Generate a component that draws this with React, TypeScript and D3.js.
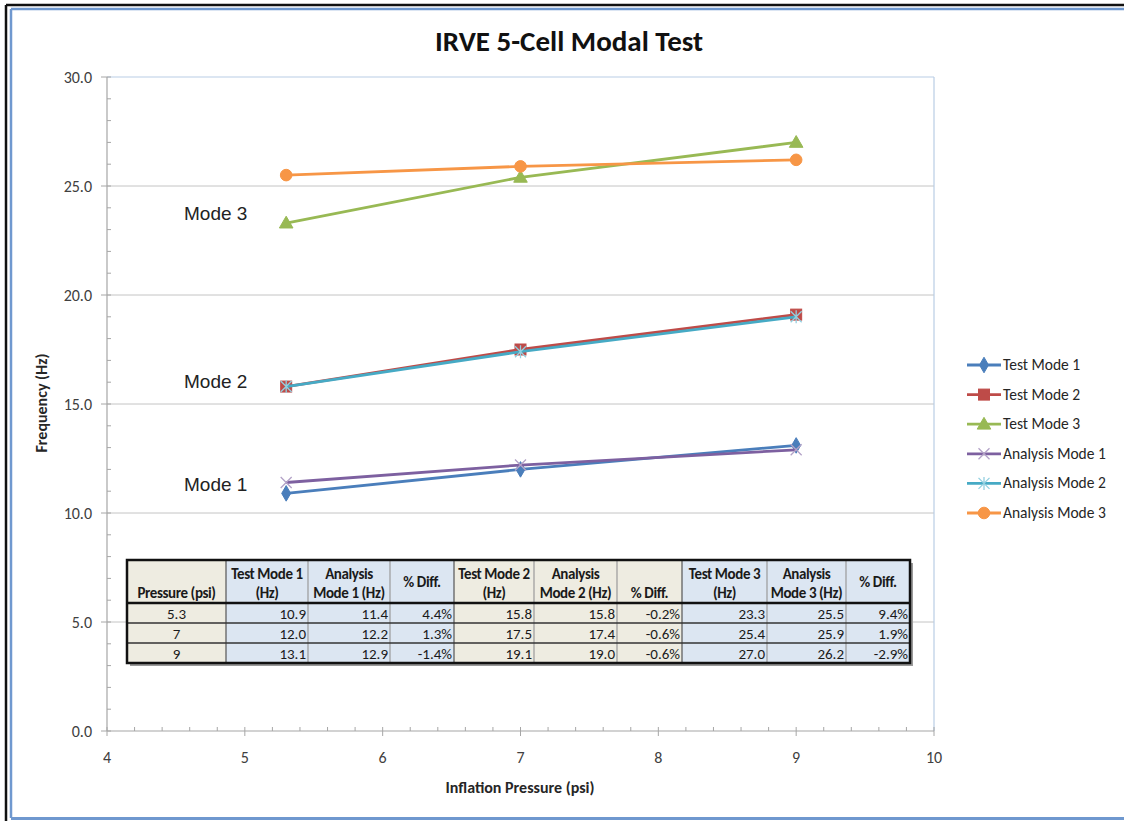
import React from "react";
import * as d3 from "d3";

const pressures = [5.3, 7, 9];
const pressureLabels = ["5.3", "7", "9"];
const testMode1 = [10.9, 12.0, 13.1];
const testMode2 = [15.8, 17.5, 19.1];
const testMode3 = [23.3, 25.4, 27.0];
const analysisMode1 = [11.4, 12.2, 12.9];
const analysisMode2 = [15.8, 17.4, 19.0];
const analysisMode3 = [25.5, 25.9, 26.2];
const diffMode1 = ["4.4%", "1.3%", "-1.4%"];
const diffMode2 = ["-0.2%", "-0.6%", "-0.6%"];
const diffMode3 = ["9.4%", "1.9%", "-2.9%"];
const xTicks = [4, 5, 6, 7, 8, 9, 10];
const yTicks = [0, 5, 10, 15, 20, 25, 30];
const modeLabels = [
  { text: "Mode 3", v: 23.75 },
  { text: "Mode 2", v: 16.05 },
  { text: "Mode 1", v: 11.35 },
];

const seriesList = [
  { name: "Test Mode 1", values: testMode1, color: "#4a7ebb", marker: "diamond" },
  { name: "Test Mode 2", values: testMode2, color: "#be4b48", marker: "square" },
  { name: "Test Mode 3", values: testMode3, color: "#98b954", marker: "triangle" },
  { name: "Analysis Mode 1", values: analysisMode1, color: "#7d60a0", marker: "x" },
  { name: "Analysis Mode 2", values: analysisMode2, color: "#46aac5", marker: "star" },
  { name: "Analysis Mode 3", values: analysisMode3, color: "#f79646", marker: "circle" },
];

const FONT = "Carlito, Lato, 'Open Sans', sans-serif";

function Marker({ type, color, x, y }: { type: string; color: string; x: number; y: number }) {
  if (type === "diamond") {
    const p = d3.symbol(d3.symbolDiamond, 70)();
    return <path d={p || ""} transform={`translate(${x},${y})`} fill={color} stroke={color} strokeWidth={1} />;
  }
  if (type === "square") {
    return <rect x={x - 5.5} y={y - 5.5} width={11} height={11} fill={color} stroke={color} />;
  }
  if (type === "triangle") {
    const p = d3.symbol(d3.symbolTriangle, 80)();
    return <path d={p || ""} transform={`translate(${x},${y + 1})`} fill={color} stroke={color} />;
  }
  if (type === "circle") {
    return <circle cx={x} cy={y} r={5.8} fill={color} stroke={color} />;
  }
  if (type === "x") {
    const s = 5.5;
    return (
      <path
        d={`M${x - s},${y - s}L${x + s},${y + s}M${x - s},${y + s}L${x + s},${y - s}`}
        stroke="#b3a2c7"
        strokeWidth={1.3}
        fill="none"
      />
    );
  }
  const s = 5.5;
  return (
    <path
      d={`M${x - s},${y - s}L${x + s},${y + s}M${x - s},${y + s}L${x + s},${y - s}M${x},${y - s - 1}L${x},${y + s + 1}`}
      stroke="#93d0e0"
      strokeWidth={1.3}
      fill="none"
    />
  );
}

export default function App() {
  const W = 1124;
  const H = 821;
  const left = 107, right = 934, top = 77, bottom = 731;
  const x = d3.scaleLinear().domain([4, 10]).range([left, right]);
  const y = d3.scaleLinear().domain([0, 30]).range([bottom, top]);
  const line = d3
    .line<[number, number]>()
    .x((d) => x(d[0]))
    .y((d) => y(d[1]));

  const xMinor = d3.range(4, 10.001, 0.2);
  const yMinor = d3.range(0, 30.001, 1);

  const colEdges = [127, 226, 308, 390, 454, 534, 617, 682, 767, 846, 910];
  const rowEdges = [560, 603, 623, 643, 663];
  const beige = "#eeece1";
  const blue = "#dce6f2";
  const colFill = [beige, blue, blue, blue, beige, beige, beige, blue, blue, blue];
  const headers: string[][] = [
    ["Pressure (psi)"],
    ["Test Mode 1", "(Hz)"],
    ["Analysis", "Mode 1 (Hz)"],
    ["% Diff."],
    ["Test Mode 2", "(Hz)"],
    ["Analysis", "Mode 2 (Hz)"],
    ["% Diff."],
    ["Test Mode 3", "(Hz)"],
    ["Analysis", "Mode 3 (Hz)"],
    ["% Diff."],
  ];
  const rows = pressures.map((_, i) => [
    pressureLabels[i],
    testMode1[i].toFixed(1),
    analysisMode1[i].toFixed(1),
    diffMode1[i],
    testMode2[i].toFixed(1),
    analysisMode2[i].toFixed(1),
    diffMode2[i],
    testMode3[i].toFixed(1),
    analysisMode3[i].toFixed(1),
    diffMode3[i],
  ]);
  const TF = 15;

  return (
    <svg width={W} height={H} style={{ position: "absolute", left: 0, top: 0 }}>
      <rect x={0} y={0} width={W} height={H} fill="#ffffff" />
      <line x1={6} y1={5} x2={W} y2={5} stroke="#111" strokeWidth={2.5} />
      <line x1={6} y1={5} x2={6} y2={H} stroke="#111" strokeWidth={2.5} />
      <line x1={11} y1={9} x2={W} y2={9} stroke="#6f98cf" strokeWidth={2.5} />
      <line x1={11} y1={9} x2={11} y2={818} stroke="#6f98cf" strokeWidth={2.5} />
      <line x1={11} y1={818.5} x2={W} y2={818.5} stroke="#6f98cf" strokeWidth={3} />

      <text x={569} y={51} textAnchor="middle" fontFamily={FONT} fontWeight="bold" fontSize={29} fill="#111">
        IRVE 5-Cell Modal Test
      </text>

      {yTicks.filter((t) => t > 0 && t < 30).map((t) => (
        <line key={t} x1={left} x2={right} y1={y(t)} y2={y(t)} stroke="#c4c4c4" strokeWidth={1} />
      ))}
      <line x1={left} x2={right} y1={top} y2={top} stroke="#b9cde5" strokeWidth={1.2} />
      <line x1={right} x2={right} y1={top} y2={bottom} stroke="#b9cde5" strokeWidth={1.2} />

      <line x1={left} x2={left} y1={top} y2={bottom} stroke="#a6a6a6" strokeWidth={1.2} />
      {yMinor.map((t) => (
        <line key={"ym" + t} x1={left} x2={left + 4} y1={y(t)} y2={y(t)} stroke="#a6a6a6" />
      ))}
      {yTicks.map((t) => (
        <g key={"yt" + t}>
          <line x1={left - 6} x2={left} y1={y(t)} y2={y(t)} stroke="#a6a6a6" />
          <text x={92} y={y(t) + 5.5} textAnchor="end" fontFamily={FONT} fontSize={16} fill="#404040">
            {t.toFixed(1)}
          </text>
        </g>
      ))}
      <line x1={left} x2={right} y1={bottom} y2={bottom} stroke="#a6a6a6" strokeWidth={1.2} />
      {xMinor.map((t) => (
        <line key={"xm" + t} x1={x(t)} x2={x(t)} y1={bottom - 4} y2={bottom} stroke="#a6a6a6" />
      ))}
      {xTicks.map((t) => (
        <g key={"xt" + t}>
          <line x1={x(t)} x2={x(t)} y1={bottom} y2={bottom + 5} stroke="#a6a6a6" />
          <text x={x(t)} y={763} textAnchor="middle" fontFamily={FONT} fontSize={16} fill="#404040">
            {t}
          </text>
        </g>
      ))}

      <text x={520} y={793} textAnchor="middle" fontFamily={FONT} fontWeight="bold" fontSize={16} fill="#262626">
        Inflation Pressure (psi)
      </text>
      <text
        transform={`translate(47,${y(15) - 1}) rotate(-90)`}
        textAnchor="middle"
        fontFamily={FONT}
        fontWeight="bold"
        fontSize={16}
        fill="#262626"
      >
        Frequency (Hz)
      </text>

      {seriesList.map((s) => {
        const pts = pressures.map((p, i) => [p, s.values[i]] as [number, number]);
        return (
          <g key={s.name}>
            <path d={line(pts) || ""} fill="none" stroke={s.color} strokeWidth={2.8} />
            {pts.map((d, i) => (
              <Marker key={i} type={s.marker} color={s.color} x={x(d[0])} y={y(d[1])} />
            ))}
          </g>
        );
      })}

      {modeLabels.map((m) => (
        <text key={m.text} x={184} y={y(m.v) + 7} fontFamily="'Liberation Sans', Arial, sans-serif" fontSize={19} fill="#222">
          {m.text}
        </text>
      ))}

      {seriesList.map((s, i) => {
        const ly = 365 + i * 29.6;
        return (
          <g key={"lg" + s.name}>
            <line x1={967} x2={1001} y1={ly} y2={ly} stroke={s.color} strokeWidth={2.8} />
            <Marker type={s.marker} color={s.color} x={984} y={ly} />
            <text x={1003} y={ly + 5} fontFamily={FONT} fontSize={15.5} fill="#262626">
              {s.name}
            </text>
          </g>
        );
      })}

      <g>
        <rect x={130} y={563} width={colEdges[10] - colEdges[0]} height={rowEdges[4] - rowEdges[0]} fill="#9a9a9a" />
        {colFill.map((f, c) => (
          <rect
            key={"cf" + c}
            x={colEdges[c]}
            y={rowEdges[0]}
            width={colEdges[c + 1] - colEdges[c]}
            height={rowEdges[4] - rowEdges[0]}
            fill={f}
          />
        ))}
        {colEdges.slice(1, 10).map((cx, c) => (
          <line
            key={"cl" + c}
            x1={cx}
            x2={cx}
            y1={rowEdges[0]}
            y2={rowEdges[4]}
            stroke={[0, 3, 6].includes(c) ? "#555" : "#9a9a9a"}
            strokeWidth={1.2}
          />
        ))}
        {rowEdges.slice(2, 4).map((ry, r) => (
          <line key={"rl" + r} x1={colEdges[0]} x2={colEdges[10]} y1={ry} y2={ry} stroke="#333" strokeWidth={1.3} />
        ))}
        <line x1={colEdges[0]} x2={colEdges[10]} y1={rowEdges[1]} y2={rowEdges[1]} stroke="#111" strokeWidth={2.5} />
        <rect
          x={colEdges[0]}
          y={rowEdges[0]}
          width={colEdges[10] - colEdges[0]}
          height={rowEdges[4] - rowEdges[0]}
          fill="none"
          stroke="#111"
          strokeWidth={2.5}
        />
        {headers.map((h, c) => {
          const cx = (colEdges[c] + colEdges[c + 1]) / 2;
          if (h.length === 2) {
            return (
              <g key={"h" + c}>
                <text x={cx} y={579} textAnchor="middle" fontFamily={FONT} fontWeight="bold" fontSize={TF} fill="#1a1a1a" letterSpacing={-0.4}>
                  {h[0]}
                </text>
                <text x={cx} y={598} textAnchor="middle" fontFamily={FONT} fontWeight="bold" fontSize={TF} fill="#1a1a1a" letterSpacing={-0.4}>
                  {h[1]}
                </text>
              </g>
            );
          }
          const ty = c === 0 ? 598 : c === 6 ? 598 : 587;
          return (
            <text key={"h" + c} x={cx} y={ty} textAnchor="middle" fontFamily={FONT} fontWeight="bold" fontSize={TF} fill="#1a1a1a" letterSpacing={-0.4}>
              {h[0]}
            </text>
          );
        })}
        {rows.map((row, r) =>
          row.map((v, c) => {
            const ty = rowEdges[r + 1] + 15.5;
            const centered = c === 0;
            return (
              <text
                key={"d" + r + "-" + c}
                x={centered ? (colEdges[c] + colEdges[c + 1]) / 2 : colEdges[c + 1] - 2}
                y={ty}
                textAnchor={centered ? "middle" : "end"}
                fontFamily={FONT}
                fontSize={TF}
                fill="#1a1a1a"
              >
                {v}
              </text>
            );
          })
        )}
      </g>
    </svg>
  );
}
